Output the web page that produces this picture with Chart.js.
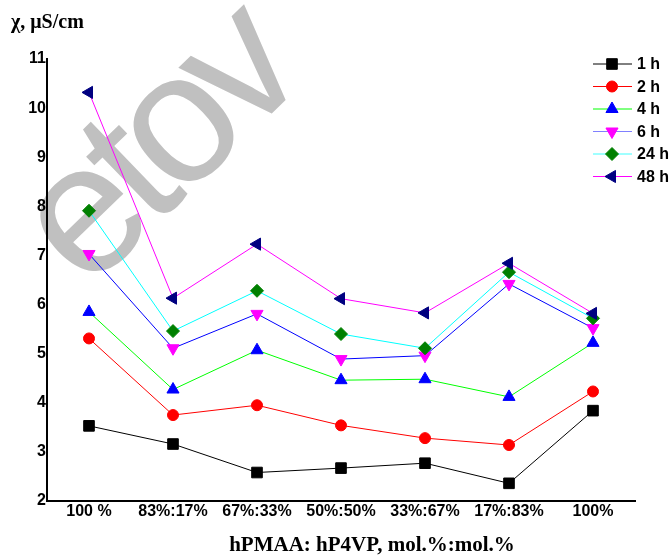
<!DOCTYPE html>
<html lang="en">
<head>
    <meta charset="UTF-8">
    <title>Conductivity</title>
    <script src="https://cdn.jsdelivr.net/npm/chart.js"></script>
    <style>
        * { margin: 0; padding: 0; box-sizing: border-box; }
        body { background: #fff; width: 671px; height: 556px; overflow: hidden; }
        canvas { display: block; }
    </style>
</head>
<body>
    <canvas id="chart" width="671" height="556"></canvas>

    <script>
        // categories (hPMAA : hP4VP ratio)
        const categories = ['100 %', '83%:17%', '67%:33%', '50%:50%', '33%:67%', '17%:83%', '100%'];

        // conductivity values, µS/cm
        const h1 = [3.53, 3.16, 2.58, 2.67, 2.77, 2.36, 3.84];
        const h2 = [5.31, 3.75, 3.95, 3.54, 3.28, 3.14, 4.23];
        const h4 = [5.85, 4.27, 5.07, 4.46, 4.48, 4.12, 5.22];
        const h6 = [7.03, 5.11, 5.81, 4.89, 4.96, 6.42, 5.52];
        const h24 = [7.91, 5.46, 6.28, 5.40, 5.11, 6.66, 5.72];
        const h48 = [10.32, 6.13, 7.23, 6.12, 5.83, 6.84, 5.82];

        const yTicks = [2, 3, 4, 5, 6, 7, 8, 9, 10, 11];

        const series = [
            { label: '1 h', data: h1, line: '#000000', key: '#000000', mark: '#000000', style: 'rect', rot: 0, r: 7.5 },
            { label: '2 h', data: h2, line: '#ff0000', key: '#ff0000', mark: '#ff0000', style: 'circle', rot: 0, r: 5.5 },
            { label: '4 h', data: h4, line: '#00ff00', key: '#00ff00', mark: '#0000ff', style: 'triangle', rot: 0, r: 7 },
            { label: '6 h', data: h6, line: '#0000ff', key: '#8080ff', mark: '#ff00ff', style: 'triangle', rot: 180, r: 7 },
            { label: '24 h', data: h24, line: '#00ffff', key: '#40ffff', mark: '#008000', style: 'rectRot', rot: 0, r: 6.5 },
            { label: '48 h', data: h48, line: '#ff00ff', key: '#ff00ff', mark: '#000080', style: 'triangle', rot: -90, r: 7 }
        ];

        // watermark, axis titles and the legend are painted by hand
        const decor = {
            id: 'decor',
            beforeDraw(chart) {
                const ctx = chart.ctx;
                const fs = 185;
                ctx.save();
                ctx.fillStyle = '#c0c0c0';
                ctx.font = fs + 'px Arial, "Liberation Sans", sans-serif';
                ctx.letterSpacing = '-12px';
                const wE = ctx.measureText('e').width;
                ctx.translate(86, 226);
                ctx.rotate(-44 * Math.PI / 180);
                ctx.textBaseline = 'alphabetic';
                ctx.fillText('etov', -wE / 2, 0.26 * fs);
                ctx.restore();
            },
            afterDraw(chart) {
                const ctx = chart.ctx;
                ctx.save();
                ctx.fillStyle = '#000';
                ctx.textBaseline = 'alphabetic';
                ctx.font = 'bold 20px "Times New Roman", "Liberation Serif", serif';
                ctx.textAlign = 'left';
                ctx.fillText('χ, μS/cm', 11, 28);
                ctx.font = 'bold 21px "Times New Roman", "Liberation Serif", serif';
                ctx.textAlign = 'center';
                ctx.fillText('hPMAA: hP4VP, mol.%:mol.%', 372, 551);

                // legend
                ctx.font = 'bold 16px Arial, "Liberation Sans", sans-serif';
                ctx.textAlign = 'left';
                ctx.textBaseline = 'middle';
                series.forEach((s, i) => {
                    const y = 64 + i * 22.5;
                    ctx.strokeStyle = s.key;
                    ctx.lineWidth = 1;
                    ctx.beginPath();
                    ctx.moveTo(593, y);
                    ctx.lineTo(632, y);
                    ctx.stroke();
                    ctx.fillStyle = s.mark;
                    ctx.strokeStyle = s.mark;
                    Chart.helpers.drawPoint(ctx, { pointStyle: s.style, rotation: s.rot, radius: s.r, borderWidth: 1 }, 612, y);
                    ctx.fillStyle = '#000';
                    ctx.fillText(s.label, 637, y + 1);
                });
                ctx.restore();
            }
        };

        const chart = new Chart(document.getElementById('chart'), {
            type: 'line',
            data: {
                labels: categories,
                datasets: series.map(s => ({
                    label: s.label,
                    data: s.data,
                    borderColor: s.line,
                    borderWidth: 1,
                    backgroundColor: s.mark,
                    pointBackgroundColor: s.mark,
                    pointBorderColor: s.mark,
                    pointBorderWidth: 1,
                    pointStyle: s.style,
                    pointRotation: s.rot,
                    pointRadius: s.r,
                    tension: 0,
                    fill: false
                })).reverse()
            },
            options: {
                responsive: false,
                animation: false,
                devicePixelRatio: 1,
                layout: { padding: { left: 0, top: 59, right: 36, bottom: 0 } },
                plugins: {
                    legend: { display: false },
                    tooltip: { enabled: false }
                },
                scales: {
                    x: {
                        type: 'category',
                        offset: true,
                        afterFit: s => { s.height = 55; },
                        border: { color: '#000', width: 2 },
                        grid: { drawOnChartArea: false, drawTicks: false },
                        ticks: {
                            color: '#000',
                            padding: 1,
                            maxRotation: 0,
                            autoSkip: false,
                            font: { family: 'Arial, "Liberation Sans", sans-serif', size: 16, weight: 'bold' }
                        }
                    },
                    y: {
                        min: yTicks[0],
                        max: yTicks[yTicks.length - 1],
                        afterFit: s => { s.width = 47; },
                        afterBuildTicks: s => { s.ticks = yTicks.map(v => ({ value: v })); },
                        border: { color: '#000', width: 2 },
                        grid: { drawOnChartArea: false, drawTicks: false },
                        ticks: {
                            color: '#000',
                            padding: 1,
                            font: { family: 'Arial, "Liberation Sans", sans-serif', size: 16, weight: 'bold' }
                        }
                    }
                }
            },
            plugins: [decor]
        });
    </script>
</body>
</html>
